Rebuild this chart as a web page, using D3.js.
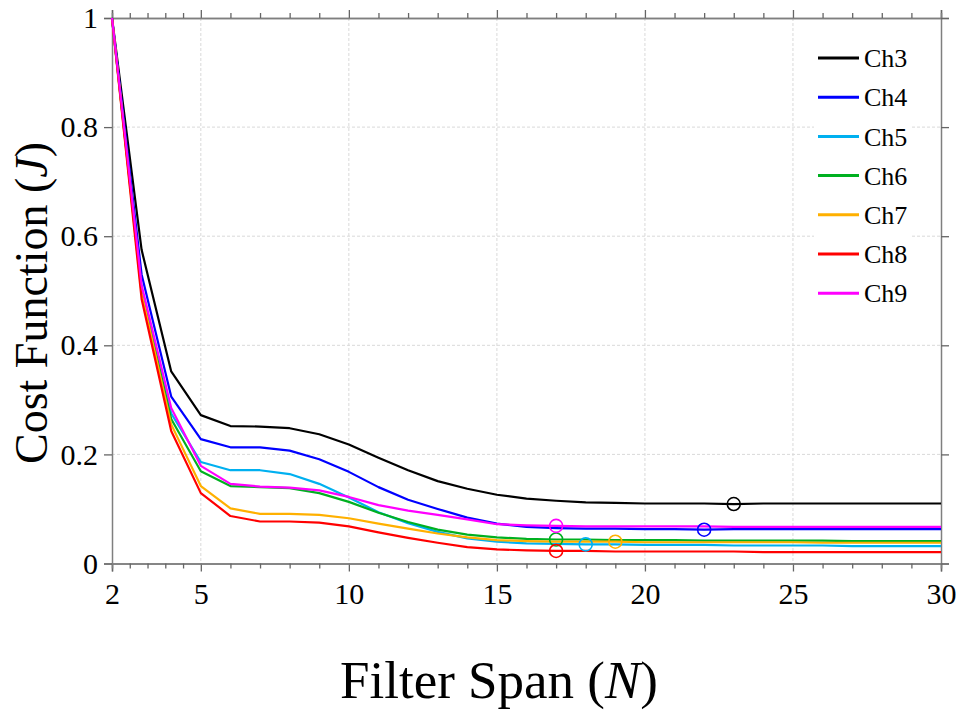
<!DOCTYPE html>
<html><head><meta charset="utf-8">
<script src="https://cdn.jsdelivr.net/npm/d3@7"></script>
<style>html,body{margin:0;padding:0;background:#fff;} svg{display:block;}</style>
</head><body>
<svg id="chart" width="960" height="710"></svg>
<script>
const spans = d3.range(2, 31);
const seriesNames = ["Ch3","Ch4","Ch5","Ch6","Ch7","Ch8","Ch9"];
const seriesColors = ["#000000","#0000ff","#00b0f0","#00b020","#ffb000","#ff0000","#ff00ff"];
const ch3 = [1,0.575,0.352,0.272,0.252,0.251,0.248,0.237,0.218,0.194,0.171,0.151,0.137,0.126,0.119,0.115,0.112,0.111,0.110,0.110,0.110,0.109,0.110,0.110,0.110,0.110,0.110,0.110,0.110];
const ch4 = [1,0.530,0.306,0.228,0.213,0.213,0.207,0.191,0.168,0.140,0.117,0.100,0.084,0.073,0.067,0.065,0.064,0.064,0.063,0.063,0.062,0.063,0.063,0.063,0.063,0.063,0.063,0.063,0.063];
const ch5 = [1,0.505,0.275,0.186,0.171,0.171,0.164,0.146,0.121,0.094,0.074,0.058,0.046,0.040,0.037,0.036,0.035,0.035,0.034,0.034,0.034,0.033,0.033,0.033,0.033,0.032,0.032,0.032,0.032];
const ch6 = [1,0.500,0.265,0.169,0.142,0.140,0.138,0.129,0.113,0.093,0.076,0.062,0.053,0.048,0.045,0.044,0.044,0.043,0.043,0.043,0.042,0.042,0.042,0.042,0.042,0.041,0.041,0.041,0.041];
const ch7 = [1,0.495,0.255,0.142,0.101,0.091,0.091,0.089,0.083,0.073,0.064,0.055,0.048,0.043,0.041,0.040,0.040,0.040,0.039,0.039,0.039,0.039,0.039,0.039,0.038,0.038,0.038,0.038,0.038];
const ch8 = [1,0.485,0.243,0.129,0.087,0.077,0.077,0.075,0.068,0.057,0.047,0.038,0.030,0.026,0.024,0.023,0.023,0.022,0.022,0.022,0.022,0.022,0.021,0.021,0.021,0.021,0.021,0.021,0.021];
const ch9 = [1,0.510,0.285,0.179,0.146,0.141,0.139,0.134,0.122,0.107,0.097,0.089,0.081,0.072,0.070,0.069,0.068,0.068,0.068,0.068,0.068,0.067,0.067,0.067,0.067,0.067,0.067,0.067,0.067];
const seriesValues = [ch3, ch4, ch5, ch6, ch7, ch8, ch9];
const optimalSpan = [23, 22, 18, 17, 19, 17, 17];
const xMajorTicks = [2, 5, 10, 15, 20, 25, 30];
const xMinorTicks = [2.6, 3.2, 3.8, 4.4, 6, 7, 8, 9, 11, 12, 13, 14, 16, 17, 18, 19, 21, 22, 23, 24, 26, 27, 28, 29];
const yTicks = [0, 0.2, 0.4, 0.6, 0.8, 1];
const xGrid = [5, 10, 15, 20, 25];
const yGrid = [0.2, 0.4, 0.6, 0.8];

const svg = d3.select("#chart");
const L = 112, R = 941, T = 18, B = 563.5;
const x = d3.scaleLinear().domain([2, 30]).range([L, R]);
const y = d3.scaleLinear().domain([0, 1]).range([B, T]);
const font = "'Liberation Serif','Times New Roman',serif";
const axisColor = "#7f7f7f";

// grid
const g = svg.append("g");
g.selectAll(".gx").data(xGrid).join("line")
  .attr("x1", d => x(d)).attr("x2", d => x(d)).attr("y1", T).attr("y2", B)
  .attr("stroke", "#d9d9d9").attr("stroke-width", 1).attr("stroke-dasharray", "3,2");
g.selectAll(".gy").data(yGrid).join("line")
  .attr("x1", L).attr("x2", R).attr("y1", d => y(d)).attr("y2", d => y(d))
  .attr("stroke", "#d9d9d9").attr("stroke-width", 1).attr("stroke-dasharray", "3,2");

// axes
function styleAxis(sel) {
  sel.select(".domain").attr("stroke", axisColor).attr("stroke-width", 1.5);
  sel.selectAll(".tick line").attr("stroke", "#666").attr("stroke-width", 1.3);
  sel.selectAll("text").attr("font-family", font).attr("font-size", 30).attr("fill", "#000");
}
const xb = svg.append("g").attr("transform", `translate(0,${B})`)
  .call(d3.axisBottom(x).tickValues(xMajorTicks).tickFormat(d3.format("d")).tickSizeOuter(0).tickSize(8).tickPadding(11));
styleAxis(xb);
const xbm = svg.append("g").attr("transform", `translate(0,${B})`)
  .call(d3.axisBottom(x).tickValues(xMinorTicks).tickFormat("").tickSizeOuter(0).tickSize(5));
styleAxis(xbm);
const xt = svg.append("g").attr("transform", `translate(0,${T})`)
  .call(d3.axisTop(x).tickValues(xMajorTicks).tickFormat("").tickSizeOuter(0).tickSize(8));
styleAxis(xt);
const xtm = svg.append("g").attr("transform", `translate(0,${T})`)
  .call(d3.axisTop(x).tickValues(xMinorTicks).tickFormat("").tickSizeOuter(0).tickSize(5));
styleAxis(xtm);
const yl = svg.append("g").attr("transform", `translate(${L},0)`)
  .call(d3.axisLeft(y).tickValues(yTicks).tickFormat(d => d === 0 || d === 1 ? d3.format("d")(d) : d3.format(".1f")(d)).tickSizeOuter(0).tickSize(8).tickPadding(6));
styleAxis(yl);
const yr = svg.append("g").attr("transform", `translate(${R},0)`)
  .call(d3.axisRight(y).tickValues(yTicks).tickFormat("").tickSizeOuter(0).tickSize(8));
styleAxis(yr);

// lines
const line = d3.line().x((d, i) => x(spans[i])).y(d => y(d));
const plot = svg.append("g");
seriesValues.forEach((vals, k) => {
  plot.append("path").datum(vals).attr("d", line)
    .attr("fill", "none").attr("stroke", seriesColors[k]).attr("stroke-width", 2.2)
    .attr("stroke-linejoin", "round");
});
seriesValues.forEach((vals, k) => {
  const n = optimalSpan[k];
  plot.append("circle").attr("cx", x(n)).attr("cy", y(vals[spans.indexOf(n)]))
    .attr("r", 6.5).attr("fill", "none").attr("stroke", seriesColors[k]).attr("stroke-width", 1.6);
});

// legend
const leg = svg.append("g");
leg.append("rect").attr("x", 814).attr("y", 40).attr("width", 98).attr("height", 272).attr("fill", "#fff");
seriesNames.forEach((name, k) => {
  const yy = 58 + k * 39.2;
  leg.append("line").attr("x1", 818).attr("x2", 859).attr("y1", yy).attr("y2", yy)
    .attr("stroke", seriesColors[k]).attr("stroke-width", 3);
  leg.append("text").attr("x", 864).attr("y", yy).attr("dy", "0.35em")
    .attr("font-family", font).attr("font-size", 26).text(name);
});

// axis labels
const xlab = svg.append("text").attr("x", 499).attr("y", 698).attr("text-anchor", "middle")
  .attr("font-family", font).attr("font-size", 53);
xlab.append("tspan").text("Filter Span (");
xlab.append("tspan").attr("font-style", "italic").text("N");
xlab.append("tspan").text(")");
const ylab = svg.append("text").attr("transform", "translate(47,303) rotate(-90)").attr("text-anchor", "middle")
  .attr("font-family", font).attr("font-size", 46);
ylab.append("tspan").text("Cost Function (");
ylab.append("tspan").attr("font-style", "italic").text("J");
ylab.append("tspan").text(")");
</script>
</body></html>
